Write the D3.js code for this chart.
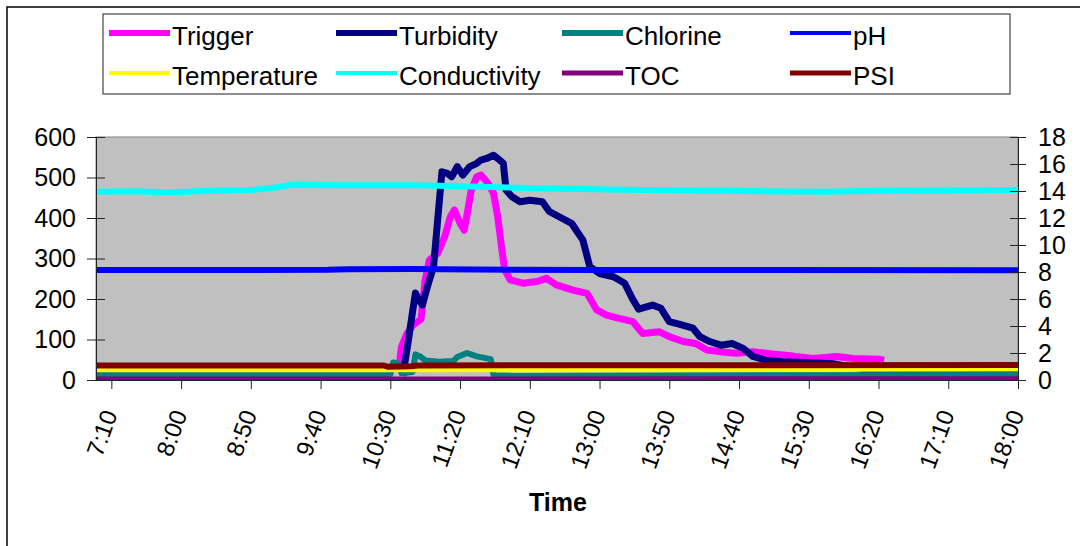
<!DOCTYPE html>
<html>
<head>
<meta charset="utf-8">
<script src="https://cdn.jsdelivr.net/npm/d3@7"></script>
<style>
  body { margin: 0; background: #fff; }
  text { font-family: Arial, "Liberation Sans", sans-serif; }
</style>
</head>
<body>
<div id="container"></div>
<script>
// tick labels
let xTickLabels = ["7:10","8:00","8:50","9:40","10:30","11:20","12:10","13:00","13:50","14:40","15:30","16:20","17:10","18:00"];
let leftTicks = [0,100,200,300,400,500,600];
let rightTicks = [0,2,4,6,8,10,12,14,16,18];

// series (times, values in the units of their axis)
let triggerTime = ["10:36","10:38","10:42","10:46","10:52","10:55","10:58","11:04","11:09","11:13","11:16","11:20","11:23","11:26","11:28","11:32","11:35","11:40","11:44","11:47","11:50","11:52","11:56","12:05","12:15","12:22","12:29","12:41","12:51","12:58","13:05","13:14","13:24","13:29","13:31","13:43","13:50","14:00","14:09","14:17","14:26","14:38","14:50","15:04","15:19","15:33","15:50","16:02","16:21","16:24"];
let triggerVal = [25,82,115,135,150,247,296,313,354,403,420,387,370,428,469,502,506,486,461,403,321,272,247,239,243,251,235,222,214,173,160,152,144,123,115,119,107,95,90,74,70,66,70,64,59,53,58,53,51,49];

let turbTime = ["10:39","10:43","10:46","10:48","10:50","10:53","10:57","11:01","11:07","11:11","11:14","11:18","11:22","11:27","11:32","11:35","11:39","11:44","11:47","11:51","11:53","11:57","12:03","12:10","12:19","12:24","12:31","12:40","12:44","12:48","12:53","13:00","13:10","13:18","13:24","13:28","13:38","13:44","13:50","13:57","14:07","14:12","14:19","14:27","14:35","14:43","14:50","14:59","15:11","15:28","15:47","16:06","16:15","16:30","17:00","17:30","18:00"];
let turbVal = [10,99,170,215,200,185,235,280,514,510,502,527,506,527,535,543,547,555,547,535,469,453,440,444,440,416,403,387,366,346,280,263,255,239,198,175,185,177,144,138,128,107,95,86,90,78,58,49,45,43,40,29,18,16,15,17,16];

let clTime = ["6:59","9:00","10:30","10:32","10:36","10:38","10:46","10:48","10:52","10:55","11:05","11:15","11:18","11:25","11:32","11:42","11:44","12:00","14:00","18:00"];
let clVal = [0.42,0.40,0.40,1.3,1.2,0.5,0.6,1.9,1.7,1.45,1.35,1.4,1.7,2.0,1.75,1.55,0.35,0.3,0.35,0.37];

let phTime = ["6:59","9:45","10:00","10:45","11:30","13:00","15:00","18:00"];
let phVal = [8.15,8.16,8.2,8.22,8.18,8.15,8.15,8.13];

let tempTime = ["6:59","10:00","14:00","16:00","18:00"];
let tempVal = [25,24.7,24.5,26,26.4];

let condTime = ["6:59","7:30","7:50","8:20","8:50","9:05","9:20","9:49","10:13","10:49","11:34","12:22","13:29","14:35","15:40","16:21","17:10","18:00"];
let condVal = [465,466,463,467,469,474,482,481,481,481,477,473,469,467,465,467,468,469];

let tocTime = ["6:59","12:00","18:00"];
let tocVal = [3.8,4,4.2];

let psiTime = ["6:59","10:25","10:28","10:45","10:50","14:00","18:00"];
let psiVal = [36,36,33,34,36,36.5,37];

let w = 1080;
let h = 546;
let plotLeft = 96, plotRight = 1018, plotTop = 137, plotBottom = 380;

function toMin(s){
  let p = s.split(":");
  return +p[0]*60 + +p[1];
}

let xScale = d3.scaleLinear().domain([419, 1080]).range([plotLeft, plotRight]);
let yLeft = d3.scaleLinear().domain([0, 600]).range([plotBottom, plotTop]);
let yRight = d3.scaleLinear().domain([0, 18]).range([plotBottom, plotTop]);

let series = [
  {name:"Trigger",      color:"#ff00ff", width:7,   key:6, y:yLeft,  t:triggerTime, v:triggerVal},
  {name:"Turbidity",    color:"#000080", width:7,   key:6, y:yLeft,  t:turbTime,    v:turbVal},
  {name:"Chlorine",     color:"#008080", width:6,   key:6, y:yRight, t:clTime,      v:clVal},
  {name:"pH",           color:"#0000ff", width:6,   key:4, y:yRight, t:phTime,      v:phVal},
  {name:"Temperature",  color:"#ffff00", width:4.5, key:4, y:yLeft,  t:tempTime,    v:tempVal},
  {name:"Conductivity", color:"#00ffff", width:6,   key:4, y:yLeft,  t:condTime,    v:condVal},
  {name:"TOC",          color:"#800080", width:4,   key:5, y:yLeft,  t:tocTime,     v:tocVal},
  {name:"PSI",          color:"#800000", width:6,   key:5, y:yLeft,  t:psiTime,     v:psiVal}
];

let viz = d3.select("#container")
  .append("svg")
    .attr("width", w)
    .attr("height", h)
;

// outer chart frame (runs off the right and bottom edge)
viz.append("rect")
  .attr("x", 7).attr("y", 7)
  .attr("width", w + 20).attr("height", h + 20)
  .attr("fill", "none")
  .attr("stroke", "#000")
  .attr("stroke-width", 1.5)
;

// plot area
viz.append("rect")
  .attr("x", plotLeft).attr("y", plotTop)
  .attr("width", plotRight - plotLeft).attr("height", plotBottom - plotTop)
  .attr("fill", "#c0c0c0")
  .attr("stroke", "#808080")
;

viz.append("clipPath").attr("id", "plotclip")
  .append("rect")
  .attr("x", plotLeft).attr("y", plotTop)
  .attr("width", plotRight - plotLeft).attr("height", plotBottom - plotTop)
;

let lineGroup = viz.append("g").attr("clip-path", "url(#plotclip)");

series.forEach(function(s){
  let pts = d3.zip(s.t.map(toMin), s.v);
  let line = d3.line()
    .x(function(d){ return xScale(d[0]); })
    .y(function(d){ return s.y(d[1]); });
  lineGroup.append("path")
    .datum(pts)
    .attr("d", line)
    .attr("fill", "none")
    .attr("stroke", s.color)
    .attr("stroke-width", s.width)
    .attr("stroke-linejoin", "round")
  ;
});

// axes
let leftAxis = viz.append("g")
  .attr("transform", "translate(" + plotLeft + ",0)")
  .call(d3.axisLeft(yLeft).tickValues(leftTicks).tickSize(9).tickSizeOuter(0).tickPadding(11));
leftAxis.selectAll(".tick line").attr("x1", 9);

let rightAxis = viz.append("g")
  .attr("transform", "translate(" + plotRight + ",0)")
  .call(d3.axisRight(yRight).tickValues(rightTicks).tickSize(8).tickSizeOuter(0).tickPadding(12));
rightAxis.selectAll(".tick line").attr("x1", -8);

let xAxis = viz.append("g")
  .attr("transform", "translate(0," + plotBottom + ")")
  .call(d3.axisBottom(xScale)
    .tickValues(xTickLabels.map(toMin))
    .tickSize(9).tickSizeOuter(0)
    .tickFormat(function(d){ return Math.floor(d/60) + ":" + String(d%60).padStart(2, "0"); }));
xAxis.selectAll(".tick text")
  .attr("x", 0).attr("y", 0).attr("dy", 0)
  .attr("text-anchor", "end")
  .attr("transform", "translate(6,34) rotate(-70)")
;

[leftAxis, rightAxis, xAxis].forEach(function(a){
  a.attr("font-family", "Arial, 'Liberation Sans', sans-serif");
  a.selectAll("path, line").attr("stroke", "#222");
  a.selectAll("text").attr("fill", "#000");
});
leftAxis.attr("font-size", 25);
rightAxis.attr("font-size", 25);
xAxis.attr("font-size", 24);

// axis title
viz.append("text")
  .text("Time")
  .attr("x", 558)
  .attr("y", 511)
  .attr("text-anchor", "middle")
  .attr("font-size", 25)
  .attr("font-weight", "bold")
;

// legend
let key = viz.append("g");
key.append("rect")
  .attr("x", 103).attr("y", 14)
  .attr("width", 907).attr("height", 80)
  .attr("fill", "#fff")
  .attr("stroke", "#444")
  .attr("stroke-width", 1.2)
;
let keyCols = [109, 336, 562, 790];
let keyRows = [33, 73];
series.forEach(function(s, i){
  let kx = keyCols[i % 4];
  let ky = keyRows[Math.floor(i / 4)];
  key.append("line")
    .attr("x1", kx).attr("x2", kx + 61)
    .attr("y1", ky).attr("y2", ky)
    .attr("stroke", s.color)
    .attr("stroke-width", s.key)
  ;
  key.append("text")
    .text(s.name)
    .attr("x", kx + 63)
    .attr("y", ky + 12)
    .attr("font-size", 26)
  ;
});
</script>
</body>
</html>
